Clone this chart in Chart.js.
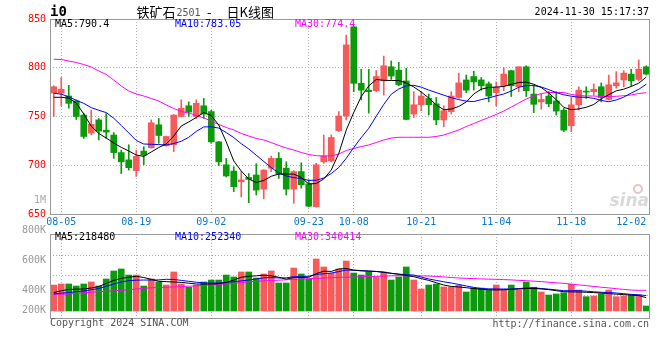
<!DOCTYPE html>
<html><head><meta charset="utf-8">
<script src="https://cdn.jsdelivr.net/npm/chart.js@4/dist/chart.umd.min.js"></script>
<style>
html,body{margin:0;padding:0;background:#fff;}
#wrap{position:relative;width:660px;height:360px;overflow:hidden;background:#fff;}
#c1{position:absolute;left:0;top:0;width:660px;height:230px;}
#c2{position:absolute;left:0;top:220px;width:660px;height:140px;}
</style></head><body>
<div id="wrap"><canvas id="c1" width="660" height="230"></canvas><canvas id="c2" width="660" height="140"></canvas></div>
<script>
// ---------- data ----------
const dates = ['08-02','08-05','08-06','08-07','08-08','08-09','08-12','08-13','08-14','08-15','08-16','08-19','08-20','08-21','08-22','08-23','08-26','08-27','08-28','08-29','08-30',
'09-02','09-03','09-04','09-05','09-06','09-09','09-10','09-11','09-12','09-13','09-18','09-19','09-20','09-23','09-24','09-25','09-26','09-27','09-30',
'10-08','10-09','10-10','10-11','10-14','10-15','10-16','10-17','10-18','10-21','10-22','10-23','10-24','10-25','10-28','10-29','10-30','10-31',
'11-01','11-04','11-05','11-06','11-07','11-08','11-11','11-12','11-13','11-14','11-15','11-18','11-19','11-20','11-21','11-22','11-25','11-26','11-27','11-28','11-29','12-02'];
const xTickDates = ['08-05','08-19','09-02','09-23','10-08','10-21','11-04','11-18','12-02'];

const open  = [774,774,771,766,751.5,733,746.5,736,731,713, 705.5,694.5,714.5,718,741.5,720,721,750,761,750, 761,755,724,700.5,694,683,687.5,690,675.5,697, 707,697,675.5,693.5,681,657.5,703.5,704.5,735.5,750.5, 842,784,777,776.5,786.5,801,797.5,786.5,752.5,762, 768.5,763,746.5,755,769.5,787.5,791,787.5,783.5,774.5, 781.5,797,780.5,801,773,765,771,766,756.5,740.5, 762,776,775.5,780.5,767.5,781.5,787.5,793.5,788,801];
const high  = [781.5,790,782,767,753.5,756.5,748,753,733.5,715.5, 721,715.5,719,746.5,748,730,752,767,765,767, 768.5,756.5,724.5,707,698.5,693.5,691.5,701.5,695.5,709.5, 713,703.5,694.5,702.5,685,702,731,731,755,833.5, 842.5,798.5,798.5,797,812,807,805.5,799.5,775.5,775.5, 773,769.5,761,775.5,794.5,792.5,796.5,790,785.5,785.5, 800,797.5,801,802,782.5,773,775.5,775.5,758.5,769.5, 780.5,780.5,783.5,784.5,792.5,796,797,798.5,808,802];
const low   = [750,761,758.5,747,727.5,731,726,727.5,707,691.5, 695,688.5,700.5,717.5,722.5,719.5,714,749.5,750,748, 748,722.5,699.5,688,673,667.5,661.5,669.5,665.5,693.5, 686.5,669.5,661,676.5,657.5,657,702,703.5,734.5,746.5, 775.5,767,753.5,775.5,772,788,781.5,746.5,749,756, 751.5,741.5,739.5,752.5,768.5,774.5,777,777,765,761, 776.5,770.5,775.5,770.5,754,757.5,760,751.5,734.5,734.5, 756.5,768.5,772,765,767,779,780.5,781.5,786.5,792.5];
const close = [780.5,778,763.5,750,729.5,742,735,734,713,703.5, 697.5,709,710.5,743.5,730.5,729.5,751.5,758.5,754.5,763.5, 752.5,724,703.5,689,678,685,685.5,674.5,695,707, 691,675.5,693.5,680,658,700.5,709.5,728.5,750.5,823.5, 784,777,775.5,791,802,791.5,782.5,747,762,771, 762,746.5,756,771,784.5,777,785.5,781.5,771,780, 793.5,781.5,801,776.5,762.5,767.5,763,755.5,736,762, 777,775,778,769.5,782.5,784.5,794.5,786.5,798.5,793.5];

const ma5  = [769.7,769.7,768.8,763.8,752.6,740.1,732.6,727.9,722.8,718.4, 714.6,710.5,709.1,713.6,718.2,721.8,730.0,740.3,744.4,749.0, 754.1,750.9,741.3,723.9,704.4,694.1,685.9,682.3,684.4,688.7, 691.0,691.0,690.9,687.5,680.8,681.3,685.9,695.1,712.1,736.2, 754.1,770.5,781.3,788.0,787.1,786.9,786.9,784.4,780.3,775.1, 769.0,761.8,756.9,757.7,760.3,764.9,773.1,778.0,779.8,780.2, 780.8,783.0,784.9,785.2,783.1,779.7,774.1,767.2,759.4,757.0, 757.8,759.5,762.3,768.1,772.4,776.3,778.0,780.8,784.2,790.4];
const ma10 = [773.9,772.9,770.2,766.6,763.5,759.1,756.4,754.0,748.2,740.8, 733.1,725.4,721.8,721.5,721.2,720.8,722.3,724.6,728.7,734.7, 739.3,739.5,738.1,733.5,728.4,722.1,716.7,710.3,703.9,697.6, 692.1,689.0,687.3,686.3,684.5,684.6,686.9,691.5,697.7,707.1, 718.2,728.4,737.9,750.3,762.4,772.9,778.2,781.4,782.0,780.1, 777.1,774.5,771.9,769.3,767.3,765.8,765.3,767.3,769.1,771.2, 773.1,776.1,780.0,781.7,781.7,780.3,777.6,774.5,772.3,770.8, 769.8,769.7,768.6,766.5,765.1,767.0,769.8,774.1,777.9,783.05];
const ma30 = [808.7,808.5,806.9,805.4,803.3,800.8,796.7,793.1,787.4,781.3, 776.2,773.1,771.0,768.5,765.9,761.8,758.2,755.1,753.6,751.0, 748.5,745.4,741.8,738.7,736.2,732.6,730.0,727.5,725.9,723.3, 720.3,717.7,715.6,713.1,711.0,709.8,709.5,709.7,711.5,715.1, 717.2,719.2,720.8,723.3,725.9,727.9,728.7,728.7,728.7,728.7, 728.7,729.5,731.0,733.6,736.2,739.7,742.8,745.9,749.0,752.1, 755.6,759.7,763.8,768.0,771.0,773.6,774.6,774.6,774.6,772.6, 771.6,771.0,771.0,770.5,770.5,770.7,771.3,772.1,773.6,774.4];

// volume in thousands of lots
const volumeK = [426,443,443,410,443,476,410,525,656,689, 590,590,410,525,476,426,640,443,389,426, 476,508,508,590,558,640,640,541,607,656, 459,459,705,607,525,853,722,618,689,820, 623,590,640,558,640,508,558,722,508,361, 426,443,394,394,421,312,377,377,344,426, 344,426,344,476,389,312,262,279,300,438, 344,235,246,284,344,235,246,262,262,82];
const volMa5K  = [303,331,353,358,361,377,402,451,503,536, 553,569,549,520,487,481,476,469,456,443, 440,443,448,467,508,553,569,577,587,577, 554,522,549,551,553,613,653,649,689,697, 672,658,653,648,636,618,602,582,563,531, 502,464,426,403,394,382,369,356,349,344, 349,354,361,369,369,361,351,333,317,313, 312,307,302,295,285,276,269,261,253,218.48];
const volMa10K = [279,292,303,317,328,349,369,405,443,476, 499,505,508,508,510,520,517,502,487,472, 462,458,459,469,481,494,507,525,544,548, 541,544,563,563,571,600,610,623,646,672, 667,663,656,648,636,618,605,597,590,556, 525,502,479,459,436,410,387,369,364,361, 361,361,369,377,379,369,358,346,333,333, 333,325,315,308,303,295,284,272,266,252.34];
const volMa30K = [274,276,279,289,300,308,315,323,330,339, 349,361,372,382,385,389,394,400,407,412, 420,428,436,446,454,467,479,487,494,500, 505,512,518,525,531,536,540,546,551,554, 558,563,566,569,572,577,579,577,576,576, 574,567,559,549,541,535,531,526,522,520, 515,510,503,497,489,482,472,462,453,441, 428,417,403,390,379,366,354,343,340,340.414];

const priceTicks = [650,700,750,800,850];
const volTickLabels = ['800K','600K','400K','200K'];
const titleCode = 'i0';
const titleName = '铁矿石';
const titleContract = '2501';
const titleKind = '日K线图';
const stamp = '2024-11-30 15:17:37';

// ---------- styling ----------
const UP = '#f65a5a', DOWN = '#0a9a0a';
const MONO = '"DejaVu Sans Mono", monospace';
const CJK = '"Noto Sans CJK SC", sans-serif';
const candleColors = close.map((c, i) => c >= open[i] ? UP : DOWN);
const tickIdx = xTickDates.map(d => dates.indexOf(d));
const gridIdx = new Set(tickIdx.filter(i => i !== dates.length - 1));
const labelAt = {}; xTickDates.forEach((d, k) => labelAt[tickIdx[k]] = d);
const last = a => a[a.length - 1];

function lineDs(data, color) {
  return {type:'line', data, borderColor:color, borderWidth:1, pointRadius:0, tension:0, order:0, fill:false};
}

const mainText = {
  id:'mainText',
  afterDraw(chart) {
    const {ctx, chartArea:a} = chart;
    ctx.save();
    // watermark
    ctx.font = 'italic bold 17px "DejaVu Sans", sans-serif';
    ctx.fillStyle = '#d9d9d9'; ctx.textAlign = 'right'; ctx.textBaseline = 'alphabetic';
    ctx.fillText('sina', 649, 206);
    ctx.beginPath(); ctx.strokeStyle = '#e2c6c6'; ctx.lineWidth = 2;
    ctx.arc(638, 189, 4, 0, Math.PI * 2); ctx.stroke();
    // frame
    ctx.strokeStyle = '#999'; ctx.lineWidth = 1;
    ctx.strokeRect(a.left + 0.5, a.top + 0.5, a.right - a.left - 1, a.bottom - a.top);
    // title
    ctx.textBaseline = 'middle'; ctx.textAlign = 'left';
    ctx.fillStyle = '#000'; ctx.font = 'bold 14px ' + MONO;
    ctx.fillText(titleCode, 50, 12);
    ctx.font = '13px ' + CJK; ctx.fillText(titleName, 136.5, 12);
    ctx.font = '10px ' + MONO; ctx.fillStyle = '#555'; ctx.fillText(titleContract, 176.5, 13);
    ctx.fillStyle = '#000'; ctx.font = '13px ' + CJK; ctx.fillText('-', 207, 12);
    ctx.fillText(titleKind, 226.5, 12);
    ctx.font = '10px ' + MONO; ctx.textAlign = 'right';
    ctx.fillText(stamp, 649, 12);
    // legend
    ctx.textAlign = 'left';
    ctx.fillStyle = '#000'; ctx.fillText('MA5:' + last(ma5), 55, 24.5);
    ctx.fillStyle = '#0000ff'; ctx.fillText('MA10:' + last(ma10), 175, 24.5);
    ctx.fillStyle = '#ff00ff'; ctx.fillText('MA30:' + last(ma30), 295, 24.5);
    ctx.fillStyle = '#aaa'; ctx.textAlign = 'right'; ctx.fillText('1M', 46, 200);
    ctx.restore();
  }
};

new Chart(document.getElementById('c1'), {
  type:'bar',
  data:{
    labels:dates,
    datasets:[
      lineDs(ma5, '#000000'),
      lineDs(ma10, '#0000ff'),
      lineDs(ma30, '#ff00ff'),
      {type:'bar', data:open.map((o, i) => [o, close[i]]), backgroundColor:candleColors, barThickness:6, grouped:false, minBarLength:1, borderWidth:0, order:1},
      {type:'bar', data:low.map((l, i) => [l, high[i]]), backgroundColor:candleColors, barThickness:1, grouped:false, borderWidth:0, order:2}
    ]
  },
  options:{
    responsive:false, animation:false, devicePixelRatio:1,
    layout:{padding:{left:0, right:10, top:19, bottom:0}},
    plugins:{legend:{display:false}, tooltip:{enabled:false}},
    scales:{
      x:{
        type:'category', offset:true,
        grid:{offset:false, drawTicks:false, color:c => gridIdx.has(c.index) ? '#b0b0b0' : 'rgba(0,0,0,0)'},
        border:{display:false, dash:[1,2]},
        ticks:{autoSkip:false, maxRotation:0, minRotation:0, align:'inner', padding:2, color:'#0a78cc',
               font:{family:MONO, size:10}, callback:(v, i) => labelAt[i] || ''},
        afterFit:s => { s.height = 16; }
      },
      y:{
        min:650, max:850,
        afterBuildTicks:ax => { ax.ticks = priceTicks.map(v => ({value:v})); },
        grid:{drawTicks:false, color:c => (c.tick && c.tick.value > 650 && c.tick.value < 850) ? '#b0b0b0' : 'rgba(0,0,0,0)'},
        border:{display:false, dash:[1,2]},
        ticks:{autoSkip:false, color:'#ff0000', padding:4, font:{family:MONO, size:10}},
        afterFit:s => { s.width = 50; }
      }
    }
  },
  plugins:[mainText]
});

// ---------- volume panel ----------
const VK_PER_PX = 16.4;            // thousands per pixel
const VBASE = 91;                  // canvas y of zero volume
const vAt = y => (VBASE - y) * VK_PER_PX;
const volLabelY = [10.7, 40.3, 70.7, 90.7];
const volGridY = [35.3, 55.3, 75.3];
const volTicks = volLabelY.map((y, k) => ({value:vAt(y), label:volTickLabels[k], grid:false}))
  .concat(volGridY.map(y => ({value:vAt(y), label:'', grid:true})));

const volText = {
  id:'volText',
  afterDraw(chart) {
    const {ctx, chartArea:a} = chart;
    ctx.save();
    ctx.strokeStyle = '#999'; ctx.lineWidth = 1;
    ctx.strokeRect(a.left + 0.5, a.top + 0.5, a.right - a.left - 1, a.bottom - a.top);
    ctx.font = '10px ' + MONO; ctx.textBaseline = 'middle'; ctx.textAlign = 'left';
    ctx.fillStyle = '#000'; ctx.fillText('MA5:' + Math.round(last(volMa5K) * 1000), 55, 17.5);
    ctx.fillStyle = '#0000ff'; ctx.fillText('MA10:' + Math.round(last(volMa10K) * 1000), 175, 17.5);
    ctx.fillStyle = '#ff00ff'; ctx.fillText('MA30:' + Math.round(last(volMa30K) * 1000), 295, 17.5);
    ctx.fillStyle = '#555';
    ctx.fillText('Copyright 2024 SINA.COM', 50, 103.5);
    ctx.textAlign = 'right';
    ctx.fillText('http://finance.sina.com.cn', 649, 104);
    ctx.restore();
  }
};

new Chart(document.getElementById('c2'), {
  type:'bar',
  data:{
    labels:dates,
    datasets:[
      lineDs(volMa5K, '#000000'),
      lineDs(volMa10K, '#0000ff'),
      lineDs(volMa30K, '#ff00ff'),
      {type:'bar', data:volumeK, backgroundColor:candleColors, barThickness:6, borderWidth:0, order:1}
    ]
  },
  options:{
    responsive:false, animation:false, devicePixelRatio:1,
    layout:{padding:{left:0, right:10, top:14, bottom:0}},
    plugins:{legend:{display:false}, tooltip:{enabled:false}},
    scales:{
      x:{
        type:'category', offset:true,
        grid:{offset:false, drawTicks:false, color:c => gridIdx.has(c.index) ? '#b0b0b0' : 'rgba(0,0,0,0)'},
        border:{display:false, dash:[1,2]},
        ticks:{display:false, autoSkip:false},
        afterFit:s => { s.height = 42; }
      },
      y:{
        bounds:'data',
        min:vAt(98), max:vAt(14),
        afterBuildTicks:ax => { ax.ticks = volTicks.map(t => ({value:t.value})); },
        grid:{drawTicks:false, color:c => (volTicks[c.index] && volTicks[c.index].grid) ? '#b0b0b0' : 'rgba(0,0,0,0)'},
        border:{display:false, dash:[1,2]},
        ticks:{autoSkip:false, color:'#999', padding:4, font:{family:MONO, size:10}, callback:(v, i) => volTicks[i] ? volTicks[i].label : ''},
        afterFit:s => { s.width = 50; }
      }
    }
  },
  plugins:[volText]
});
</script>
</body></html>
